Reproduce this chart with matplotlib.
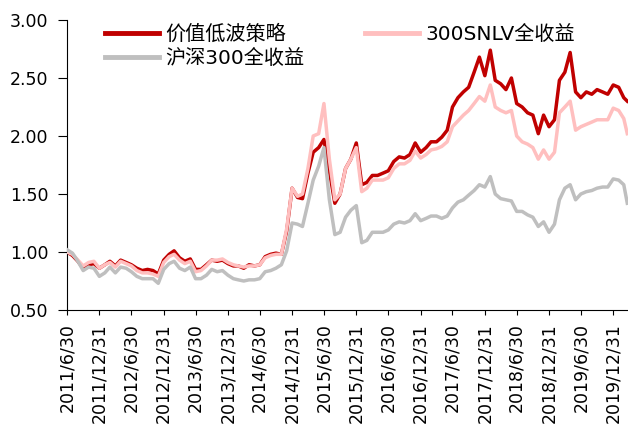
import numpy as np
import pandas as pd
import matplotlib
matplotlib.use("Agg")
import matplotlib.pyplot as plt
from matplotlib.ticker import FormatStrFormatter

plt.rcParams["font.family"] = ["DejaVu Sans", "Noto Sans CJK SC"]

# month-end points from 2011/6 to 2020/2, plus the last trading point
dates = list(pd.date_range("2011-06-30", "2020-02-29", freq="ME")) + [pd.Timestamp("2020-03-20")]

strategy = [1.00, 0.97, 0.92, 0.86, 0.89, 0.90, 0.86, 0.89, 0.92, 0.88,
            0.93, 0.91, 0.89, 0.86, 0.84, 0.85, 0.84, 0.81, 0.93, 0.98,
            1.01, 0.95, 0.92, 0.94, 0.85, 0.85, 0.89, 0.93, 0.92, 0.93,
            0.90, 0.88, 0.88, 0.86, 0.89, 0.88, 0.89, 0.96, 0.98, 0.99,
            0.98, 1.18, 1.55, 1.47, 1.46, 1.68, 1.86, 1.90, 1.97, 1.70,
            1.42, 1.50, 1.72, 1.80, 1.94, 1.58, 1.60, 1.66, 1.66, 1.68,
            1.70, 1.78, 1.82, 1.81, 1.84, 1.94, 1.86, 1.90, 1.95, 1.95,
            1.99, 2.05, 2.25, 2.33, 2.38, 2.42, 2.55, 2.68, 2.52, 2.74,
            2.48, 2.45, 2.40, 2.50, 2.28, 2.25, 2.20, 2.18, 2.02, 2.18,
            2.08, 2.14, 2.48, 2.55, 2.72, 2.38, 2.33, 2.38, 2.36, 2.40,
            2.38, 2.36, 2.44, 2.42, 2.33, 2.30]

snlv = [1.00, 0.98, 0.93, 0.88, 0.91, 0.92, 0.86, 0.89, 0.91, 0.87,
        0.92, 0.90, 0.88, 0.84, 0.82, 0.82, 0.81, 0.79, 0.91, 0.96,
        0.98, 0.93, 0.90, 0.92, 0.83, 0.84, 0.88, 0.93, 0.93, 0.94,
        0.91, 0.89, 0.88, 0.87, 0.88, 0.88, 0.89, 0.95, 0.97, 0.98,
        0.98, 1.20, 1.55, 1.48, 1.50, 1.72, 2.00, 2.02, 2.28, 1.80,
        1.45, 1.50, 1.72, 1.80, 1.90, 1.52, 1.55, 1.62, 1.62, 1.62,
        1.64, 1.72, 1.76, 1.76, 1.79, 1.87, 1.81, 1.84, 1.88, 1.89,
        1.91, 1.95, 2.08, 2.13, 2.18, 2.22, 2.28, 2.34, 2.30, 2.44,
        2.25, 2.22, 2.20, 2.22, 2.00, 1.95, 1.93, 1.90, 1.80, 1.88,
        1.80, 1.86, 2.20, 2.25, 2.30, 2.05, 2.08, 2.10, 2.12, 2.14,
        2.14, 2.14, 2.24, 2.22, 2.15, 2.02]

hs300 = [1.02, 0.99, 0.92, 0.84, 0.87, 0.86, 0.79, 0.82, 0.87, 0.82,
         0.87, 0.86, 0.83, 0.79, 0.77, 0.77, 0.77, 0.73, 0.85, 0.90,
         0.92, 0.86, 0.84, 0.87, 0.77, 0.77, 0.80, 0.85, 0.83, 0.84,
         0.80, 0.77, 0.76, 0.75, 0.76, 0.76, 0.77, 0.83, 0.84, 0.86,
         0.89, 1.01, 1.25, 1.24, 1.22, 1.42, 1.62, 1.74, 1.90, 1.45,
         1.15, 1.17, 1.30, 1.36, 1.40, 1.08, 1.10, 1.17, 1.17, 1.17,
         1.19, 1.24, 1.26, 1.25, 1.27, 1.33, 1.27, 1.29, 1.31, 1.31,
         1.29, 1.31, 1.38, 1.43, 1.45, 1.49, 1.53, 1.58, 1.56, 1.65,
         1.50, 1.46, 1.45, 1.44, 1.35, 1.35, 1.32, 1.30, 1.22, 1.26,
         1.17, 1.24, 1.45, 1.55, 1.58, 1.45, 1.50, 1.52, 1.53, 1.55,
         1.56, 1.56, 1.63, 1.62, 1.58, 1.42]

tick_dates = pd.date_range("2011-06-30", "2019-12-31", freq="6ME")
tick_labels = [f"{d.year}/{d.month}/{d.day}" for d in tick_dates]

fig = plt.figure(figsize=(6.28, 4.30), dpi=100)
ax = fig.add_axes([67 / 628, 120 / 430, 561 / 628, 290 / 430])

l_red, = ax.plot(dates, strategy, color="#C00000", linewidth=2.5, zorder=2, label="价值低波策略")
l_pink, = ax.plot(dates, snlv, color="#FFBFBF", linewidth=2.5, zorder=3, label="300SNLV全收益")
l_gray, = ax.plot(dates, hs300, color="#BFBFBF", linewidth=2.5, zorder=4, label="沪深300全收益")

ax.set_ylim(0.5, 3.0)
ax.set_yticks(np.arange(0.5, 3.01, 0.5))
ax.yaxis.set_major_formatter(FormatStrFormatter("%.2f"))
ax.set_xlim(pd.Timestamp("2011-06-30"), pd.Timestamp("2020-03-24"))
ax.set_xticks(tick_dates)
ax.set_xticklabels(tick_labels, rotation=90)

for side in ["top", "right"]:
    ax.spines[side].set_visible(False)
for side in ["left", "bottom"]:
    ax.spines[side].set_color("black")
    ax.spines[side].set_linewidth(0.8)
ax.tick_params(axis="y", direction="out", length=6.5, width=0.8, pad=7, labelsize=12.5)
ax.tick_params(axis="x", direction="out", length=3.6, width=0.8, pad=6, labelsize=12.5)

leg = ax.legend(handles=[l_red, l_gray, l_pink], ncol=2, loc="upper left",
                bbox_to_anchor=(38 / 561, 0.985), frameon=False, fontsize=14.5,
                handlelength=2.7, handletextpad=0.3, columnspacing=3.0,
                labelspacing=0.25, borderaxespad=0.0, borderpad=0.0)
for line in leg.get_lines():
    line.set_linewidth(3.5)

fig.savefig("out.png", dpi=100)
